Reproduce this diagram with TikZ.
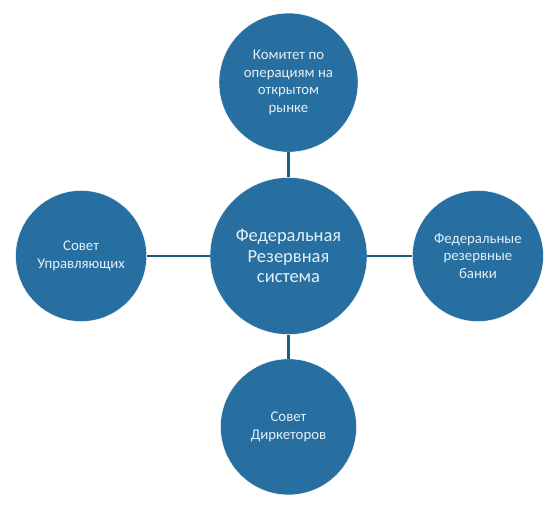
\documentclass[tikz,border=0pt]{standalone}
\usepackage{fontspec}
\setmainfont{Carlito}
\usetikzlibrary{positioning}
\definecolor{fedblue}{RGB}{38,111,160}
\definecolor{linkcol}{RGB}{31,92,122}
\definecolor{txt}{RGB}{228,240,247}

\begin{document}
\begin{tikzpicture}[
  x=1pt,y=1pt,
  hub/.style={circle,fill=fedblue,draw=white,thin,inner sep=0pt,minimum size=157pt,align=center,text=txt,font=\fontsize{18.5}{20.5}\selectfont},
  part/.style={circle,fill=fedblue,draw=white,thin,inner sep=0pt,minimum size=136pt,align=center,text=txt,font=\fontsize{14.8}{17.5}\selectfont},
  link/.style={linkcol,line width=2.8pt}
]
  \useasboundingbox (0,0) rectangle (560,504);
  \node[hub] (frs) at (288.5,248) {Федеральная\\Резервная\\система};
  \node[part,above=25pt of frs,minimum size=139pt] (fomc) {Комитет по\\операциям на\\открытом\\рынке};
  \node[part,left=63pt of frs,minimum size=131pt] (board) {Совет\\Управляющих};
  \node[part,right=45pt of frs,minimum size=131pt] (banks) {Федеральные\\резервные\\банки};
  \node[part,below=24pt of frs] (dirs) {Совет\\Диркеторов};
  \draw[link] (frs) -- (fomc);
  \draw[link] (frs) -- (board);
  \draw[link] (frs) -- (banks);
  \draw[link] (frs) -- (dirs);
\end{tikzpicture}
\end{document}
